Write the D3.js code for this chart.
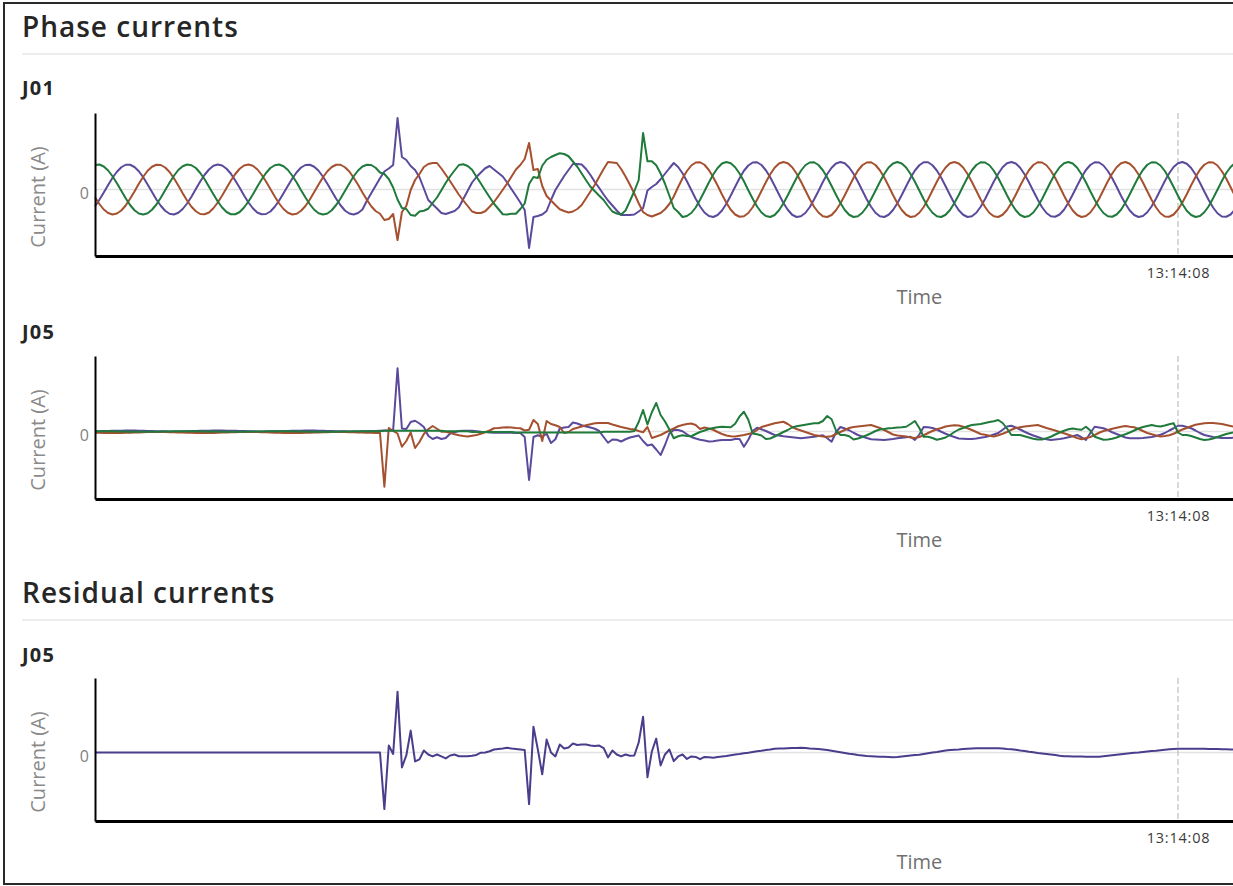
<!DOCTYPE html>
<html><head><meta charset="utf-8">
<script src="https://cdn.jsdelivr.net/npm/d3@7"></script>
<style>
html,body{margin:0;padding:0;background:#fff;overflow:hidden;}
svg{display:block;font-family:"Open Sans",sans-serif;}
</style></head><body>
<svg id="chart" width="1233" height="886"></svg>
<script>
// ---------------- DATA ----------------
const sectionTitles = ["Phase currents", "Residual currents"];
const chartNames = ["J01", "J05", "J05"];
const yAxisLabel = "Current (A)";
const xAxisLabel = "Time";
const yTickValues = [0];
const startTime = new Date(2024, 0, 1, 13, 14, 7, 753);
const sampleIntervalMs = 1;

// J01 phase currents (A), one sample per ms
const j01Purple = [
-67,-41,-12,18,47,71,89,99,99,90,
73,49,20,-10,-40,-65,-85,-97,-100,-93,
-78,-56,-29,2,32,59,80,95,100,96,
83,63,36,7,-24,-52,-75,-92,-99,-98,
-88,-69,-44,-15,15,44,69,88,98,99,
91,75,51,23,-7,-37,-63,-84,-96,-100,
-94,-80,-45,-15,15,45,72,84,98,286,
130,118,94,78,49,4,-42,-59,-76,-94,
-98,-92,-86,-71,-38,-5,28,50,68,85,
94,80,66,52,28,1,-25,-52,-82,-234,
-110,-106,-100,-86,-42,-2,26,54,78,102,
102,100,82,58,30,6,-20,-44,-64,-84,
-102,-102,-102,-100,-88,-75,-4,10,22,41,
63,85,106,90,65,33,-2,-37,-68,-92,
-106,-110,-102,-84,-57,-24,11,45,75,96,
108,109,98,77,49,15,-20,-54,-81,-101,
-110,-107,-94,-71,-40,-6,30,62,87,104,
110,105,88,63,31,-4,-39,-69,-93,-107,
-110,-101,-82,-55,-22,13,47,76,97,109,
109,97,76,47,13,-22,-56,-83,-101,-110,
-107,-93,-69,-38,-3,32,63,89,105,110,
104,87,61,29,-6,-40,-71,-94,-107,-109,
-100,-81,-53,-20,15,49,78,98,109,108,
96,74,45,11,-25,-57,-84,-102,-110,-106,
-91,-67,-36,-1,34,65,90,105,110,103,
86,60,27,-8,-42,-72,-95,-108,-109,-100,
-80];
const j01Red = [
-31,-58,-80,-94,-100,-96,-84,-64,-37,-8,
23,51,75,91,99,98,88,70,45,16,
-15,-44,-69,-87,-98,-99,-92,-75,-52,-24,
6,36,62,83,96,100,95,81,59,32,
2,-28,-56,-78,-93,-100,-97,-85,-66,-40,
-10,20,49,73,90,99,99,89,72,47,
19,-12,-41,-67,-86,-97,-122,-118,-98,-202,
-90,-66,-2,38,62,90,102,106,106,84,
59,33,6,-21,-44,-66,-88,-94,-94,-87,
-69,-50,-26,-1,24,52,80,98,122,186,
78,82,14,-26,-44,-62,-79,-86,-92,-88,
-78,-62,-35,-8,19,51,82,110,108,106,
82,52,19,-16,-55,-90,-102,-108,-101,-94,
-79,-58,-28,10,45,74,96,108,109,99,
78,49,16,-20,-53,-81,-100,-109,-107,-94,
-71,-41,-6,29,61,87,104,110,105,89,
64,32,-3,-38,-69,-92,-107,-110,-102,-83,
-56,-23,12,46,76,97,108,109,98,77,
48,14,-22,-55,-82,-101,-110,-107,-93,-70,
-39,-4,31,63,88,105,110,104,88,62,
30,-5,-40,-70,-94,-107,-110,-101,-82,-54,
-21,15,48,77,98,109,108,97,75,46,
12,-24,-57,-84,-102,-110,-106,-92,-68,-37,
-2,33,64,89,105,110,103,86,60,28,
-7,-42,-72,-95,-108,-109,-100,-80,-52,-19,
17,50,79,99,109,108,96,73,44,9,
-26];
const j01Green = [
98,100,92,76,53,25,-5,-35,-62,-83,
-96,-100,-95,-81,-60,-33,-3,27,55,78,
93,100,97,86,66,41,11,-19,-48,-72,
-90,-99,-99,-90,-72,-48,-20,11,40,66,
86,97,100,93,78,55,28,-3,-32,-59,
-81,-95,-100,-96,-83,-62,-36,-6,24,53,
76,92,99,98,87,68,62,42,8,-40,
-74,-78,-102,-105,-88,-85,-77,-54,-32,-3,
27,53,76,98,101,94,79,51,24,-4,
-31,-57,-78,-99,-100,-97,-97,-78,-56,22,
50,46,95,119,130,138,145,142,133,112,
91,64,37,11,-7,-25,-42,-66,-88,-96,
-100,-84,-46,-7,38,226,113,113,97,64,
23,-25,-74,-90,-110,-106,-94,-72,-41,-7,
28,60,86,104,110,105,89,64,33,-3,
-37,-68,-92,-106,-110,-102,-83,-56,-23,12,
46,75,97,108,109,98,77,48,14,-21,
-54,-82,-101,-110,-107,-93,-70,-39,-5,30,
62,88,104,110,104,88,62,31,-4,-39,
-70,-93,-107,-110,-101,-82,-54,-22,14,48,
77,98,109,108,97,75,46,12,-23,-56,
-83,-102,-110,-106,-92,-68,-38,-3,32,64,
89,105,110,104,87,61,29,-7,-41,-71,
-94,-107,-109,-100,-81,-53,-19,16,50,78,
99,109,108,96,74,44,10,-25,-58,-85,
-102,-110,-106,-91,-67,-35,-1,34,66,90,
106];

// J05 phase currents (A)
const j05Purple = [
1,1,2,2,3,3,3,4,4,4,
3,3,2,2,1,1,1,0,0,0,
1,1,2,2,3,3,3,4,4,4,
3,3,3,2,2,1,1,0,0,0,
1,1,1,2,2,3,3,3,4,4,
4,3,3,2,2,1,1,1,0,0,
0,1,1,2,2,3,4,4,6,253,
12,10,38,43,32,18,-17,-30,-23,-30,
-26,-8,-3,2,3,3,3,1,-1,-2,
-4,-5,-5,-5,-5,-5,-6,-6,-22,-194,
-22,-15,-21,-9,-46,-31,12,16,18,36,
32,25,20,16,11,2,-22,-45,-32,-33,
-40,-31,-24,-20,-16,-38,-56,-52,-72,-94,
-54,-8,6,6,1,-11,-22,-28,-33,-36,
-40,-39,-36,-34,-34,-34,-30,-30,-61,-33,
2,15,9,2,-6,-14,-16,-19,-21,-23,
-25,-27,-25,-23,-21,-18,-15,-27,-41,-3,
18,12,5,-5,-14,-20,-26,-31,-32,-33,
-34,-32,-30,-27,-25,-23,-21,-34,-12,18,
17,14,8,-1,-9,-16,-22,-28,-29,-30,
-30,-28,-25,-22,-18,-12,-6,7,20,23,
16,8,-1,-9,-16,-22,-28,-31,-34,-32,
-30,-27,-23,-19,-14,-23,-34,-6,19,16,
13,6,-3,-10,-17,-24,-27,-27,-27,-26,
-24,-22,-18,-13,-6,4,13,23,23,18,
13,4,-6,-14,-18,-22,-24,-26,-26,-26,
-24];
const j05Red = [
-5,-5,-6,-6,-6,-6,-6,-5,-5,-4,
-4,-3,-2,-2,-2,-2,-2,-3,-3,-4,
-4,-5,-5,-6,-6,-6,-6,-6,-5,-4,
-4,-3,-3,-2,-2,-2,-2,-2,-3,-3,
-4,-5,-5,-6,-6,-6,-6,-6,-5,-5,
-4,-4,-3,-3,-2,-2,-2,-2,-3,-3,
-4,-4,-5,-5,-6,-6,-221,14,2,-8,
-61,-38,-4,-66,-42,-10,9,22,11,-1,
-1,-5,-11,-15,-18,-20,-17,-14,-9,-3,
4,13,14,16,17,16,14,13,4,7,
46,30,-38,42,30,25,18,-6,-2,10,
15,20,25,29,33,34,34,34,28,23,
18,14,10,8,2,-3,18,-26,-20,-14,
-5,4,12,21,26,30,32,26,10,16,
12,7,-2,-10,-16,-19,-20,-17,-14,-10,
-6,6,18,23,28,33,36,39,30,18,
10,4,-2,-8,-14,-17,-20,-21,-19,-10,
-2,6,14,18,20,22,24,26,20,14,
6,-3,-12,-16,-18,-20,-24,-26,-22,-15,
-6,2,9,14,20,23,25,24,19,13,
6,-2,-10,-13,-17,-20,-15,-9,-2,7,
14,17,20,22,24,26,20,14,9,4,
-2,-7,-13,-19,-26,-31,-26,-22,-14,-5,
2,6,11,15,19,22,19,17,10,2,
-6,-11,-16,-20,-18,-15,-9,0,8,14,
21,27,30,33,34,34,32,30,26,22,
18];
const j05Green = [
1,1,1,1,1,0,0,0,-1,-1,
-1,-1,-1,-1,-1,0,0,0,1,1,
1,1,1,1,1,0,0,0,0,-1,
-1,-1,-1,-1,-1,0,0,0,0,1,
1,1,1,1,1,1,0,0,0,-1,
-1,-1,-1,-1,-1,-1,0,0,0,1,
1,1,1,1,1,1,3,3,3,3,
3,3,3,3,3,3,3,3,3,3,
1,1,1,1,1,1,-2,-2,-2,-2,
-2,-2,-2,-2,-2,-2,-4,-4,-4,-4,
-4,-4,-4,-4,-4,-4,-4,-4,-4,-4,
-4,-4,-4,-4,-4,-4,-1,-1,-1,-1,
-1,-1,-1,2,38,86,28,77,114,66,
40,8,-27,-19,-15,-18,-19,-10,-2,4,
10,14,17,19,18,17,31,60,79,47,
-8,-11,-16,-30,-28,-20,-11,-2,6,16,
21,24,27,30,33,33,42,62,49,4,
-14,-14,-19,-32,-28,-22,-15,-7,2,8,
10,13,14,16,17,19,30,42,14,-21,
-21,-26,-33,-29,-24,-14,-2,8,14,21,
26,28,30,34,38,41,46,34,12,-14,
-14,-14,-19,-24,-29,-32,-32,-27,-21,-12,
-4,3,9,12,9,7,19,4,-21,-27,
-33,-32,-29,-24,-17,-11,-4,4,12,18,
22,26,22,20,24,29,33,-4,-14,-14,
-18,-24,-30,-34,-32,-28,-22,-16,-10,-6,
-2];

// J05 residual current (A)
const j05Residual = [
0,0,0,0,0,0,0,0,0,0,
0,0,0,0,0,0,0,0,0,0,
0,0,0,0,0,0,0,0,0,0,
0,0,0,0,0,0,0,0,0,0,
0,0,0,0,0,0,0,0,0,0,
0,0,0,0,0,0,0,0,0,0,
0,0,0,0,0,0,-228,28,-6,245,
-60,-12,88,-36,-28,8,-8,-16,-8,-16,
-24,-12,-8,-15,-15,-15,-13,-10,-1,0,
5,12,14,16,19,16,14,12,10,-208,
104,12,-88,52,0,-16,32,16,20,36,
30,32,32,28,26,28,18,-20,8,-8,
-16,-8,-13,-12,40,144,-100,4,56,-52,
-8,12,-35,-16,-8,-26,-16,-18,-27,-18,
-19,-21,-18,-16,-14,-11,-8,-6,-3,-1,
2,5,7,10,12,15,16,16,17,18,
18,19,18,16,15,14,12,10,7,4,
1,-2,-5,-7,-10,-12,-14,-15,-16,-17,
-17,-18,-19,-18,-16,-14,-12,-10,-9,-6,
-3,0,2,5,8,10,11,12,14,15,
16,17,17,17,17,17,17,16,14,13,
11,8,6,3,1,-2,-4,-6,-8,-10,
-13,-15,-15,-16,-16,-16,-17,-17,-17,-17,
-15,-13,-11,-9,-7,-5,-3,-1,0,2,
4,6,7,9,11,13,14,15,15,15,
15,15,15,15,14,14,14,13,13,12,
12];

// ---------------- STYLE / LAYOUT ----------------
const colors = {purple:"#5b4a9b", red:"#a5502f", green:"#1f7a3b", residual:"#4b3c8c"};
const W = 1233;
const plotLeft = 95, plotH = 143;
const domainMs = 376;
const pxPerMs = 1083 / 247;
const plotWidth = domainMs * pxPerMs;

const svg = d3.select("#chart");
const x = d3.scaleTime()
  .domain([startTime, new Date(+startTime + domainMs)])
  .range([plotLeft, plotLeft + plotWidth]);

// outer frame
svg.append("rect").attr("x",4).attr("y",3).attr("width",1400).attr("height",881)
  .attr("fill","none").attr("stroke","#2a2a2a").attr("stroke-width",2);

const sections = [
  {title: sectionTitles[0], y: 37, ruleY: 54},
  {title: sectionTitles[1], y: 603, ruleY: 620}
];
sections.forEach(s => {
  svg.append("text").attr("x",22).attr("y",s.y).text(s.title)
    .attr("font-size",28).attr("font-weight",600).attr("fill","#262626").attr("letter-spacing","1px");
  svg.append("line").attr("x1",22).attr("x2",W).attr("y1",s.ruleY).attr("y2",s.ruleY)
    .attr("stroke","#e6e6e6").attr("stroke-width",1.5);
});

const charts = [
  {name: chartNames[0], nameY: 95, top: 113, domain: [-266, 306],
   series: [[j01Purple, colors.purple], [j01Red, colors.red], [j01Green, colors.green]]},
  {name: chartNames[1], nameY: 339, top: 356, domain: [-270, 302],
   series: [[j05Purple, colors.purple], [j05Red, colors.red], [j05Green, colors.green]]},
  {name: chartNames[2], nameY: 662, top: 678, domain: [-276, 300],
   series: [[j05Residual, colors.residual]]}
];

const fmt = d3.timeFormat("%H:%M:%S");
charts.forEach(c => {
  const g = svg.append("g");
  g.append("text").attr("x",22).attr("y",c.nameY).text(c.name)
    .attr("font-size",20).attr("font-weight",700).attr("fill","#262626").attr("letter-spacing","1.2px");

  const y = d3.scaleLinear().domain(c.domain).range([c.top + plotH, c.top]);

  // zero grid line
  g.append("line").attr("x1",plotLeft).attr("x2",plotLeft + plotWidth)
    .attr("y1",y(0)).attr("y2",y(0)).attr("stroke","#e2e2e2").attr("stroke-width",1.5);

  // dashed marker at each whole second
  const ticks = x.ticks(d3.timeSecond.every(1));
  g.selectAll("line.vmark").data(ticks).join("line").attr("class","vmark")
    .attr("x1",d=>x(d)).attr("x2",d=>x(d)).attr("y1",c.top).attr("y2",c.top + plotH)
    .attr("stroke","#b3b3b3").attr("stroke-width",1).attr("stroke-dasharray","6,3");

  const line = d3.line()
    .x((d,i) => x(new Date(+startTime + i * sampleIntervalMs)))
    .y(d => y(d));
  c.series.forEach(([vals, col]) => {
    g.append("path").attr("d", line(vals)).attr("fill","none")
      .attr("stroke", col).attr("stroke-width", 2).attr("stroke-linejoin","round");
  });

  // y axis
  const ya = g.append("g").attr("transform",`translate(${plotLeft},0)`)
    .call(d3.axisLeft(y).tickValues(yTickValues).tickSize(0).tickSizeOuter(0).tickPadding(6));
  ya.attr("font-family", null).attr("font-size", null);
  ya.select(".domain").attr("stroke","#000").attr("stroke-width",2);
  ya.selectAll("text").attr("font-size",16).attr("fill","#808080").attr("dy","0.55em");

  // x axis
  const xa = g.append("g").attr("transform",`translate(0,${c.top + plotH})`)
    .call(d3.axisBottom(x).ticks(d3.timeSecond.every(1)).tickFormat(fmt)
      .tickSize(0).tickSizeOuter(0).tickPadding(12));
  xa.attr("font-family", null).attr("font-size", null);
  xa.select(".domain").attr("stroke","#000").attr("stroke-width",2.8);
  xa.selectAll("text").attr("font-size",14.5).attr("fill","#3a3a3a").attr("letter-spacing","0.8px");

  // axis titles
  g.append("text").attr("x", plotLeft + plotWidth / 2).attr("y", c.top + plotH + 48)
    .attr("text-anchor","middle").attr("font-size",20).attr("fill","#707070").text(xAxisLabel);
  g.append("text").attr("transform",`translate(45,${c.top + 84}) rotate(-90)`)
    .attr("text-anchor","middle").attr("font-size",20).attr("fill","#8a8a8a").text(yAxisLabel);
});
</script></body></html>
